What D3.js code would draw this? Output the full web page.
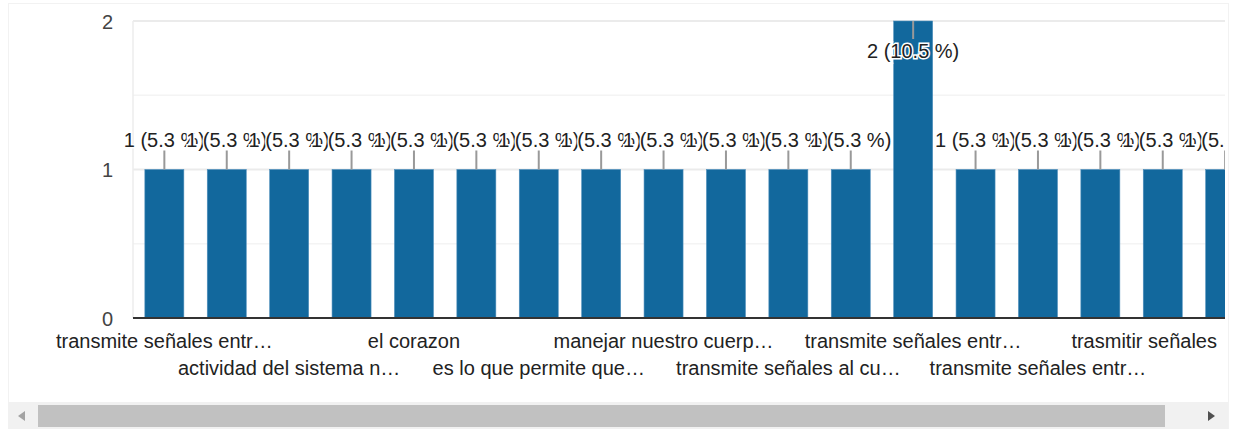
<!DOCTYPE html>
<html>
<head>
<meta charset="utf-8">
<script src="https://cdn.jsdelivr.net/npm/d3@7"></script>
<style>
  body { margin: 0; background: #fff; }
  svg { display: block; font-family: "Liberation Sans", Arial, sans-serif; }
</style>
</head>
<body>
<svg width="1235" height="429"></svg>
<script>
// answers (only every other one gets a label on the axis)
var categories = [
  "transmite señales entr…", "", "actividad del sistema n…", "",
  "el corazon", "", "es lo que permite que…", "",
  "manejar nuestro cuerp…", "", "transmite señales al cu…", "",
  "transmite señales entr…", "", "transmite señales entr…", "",
  "trasmitir señales", ""
];
var counts = [1, 1, 1, 1, 1, 1, 1, 1, 1, 1, 1, 1, 2, 1, 1, 1, 1, 1];
var yTicks = [0, 1, 2];
var total = d3.sum(counts);

var svg = d3.select('svg');
var plotLeft = 133, plotRight = 1225, plotTop = 21, plotBottom = 318;
var barColor = '#12689d';
var fontSize = 20;

// light frame of the card
svg.append('rect')
  .attr('x', 8.5).attr('y', 3.5)
  .attr('width', 1220).attr('height', 425)
  .attr('fill', 'none')
  .attr('stroke', '#f2f2f2');

var y = d3.scaleLinear().domain([0, 2]).range([plotBottom, plotTop]);

var step = 62.4;
var n = counts.length;
var x = d3.scaleBand()
  .domain(d3.range(n))
  .paddingInner(0.375)
  .paddingOuter(0.19)
  .range([plotLeft, plotLeft + step * (n - 0.375 + 2 * 0.19)]);

// grid
svg.append('g').selectAll('line')
  .data([0.5, 1.5])
  .enter().append('line')
  .attr('x1', plotLeft).attr('x2', plotRight)
  .attr('y1', function(d) { return y(d); })
  .attr('y2', function(d) { return y(d); })
  .attr('stroke', '#f4f4f4').attr('stroke-width', 1.5);

svg.append('g').selectAll('line')
  .data([1, 2])
  .enter().append('line')
  .attr('x1', plotLeft).attr('x2', plotRight)
  .attr('y1', function(d) { return y(d); })
  .attr('y2', function(d) { return y(d); })
  .attr('stroke', '#ebebeb').attr('stroke-width', 2);

svg.append('line')
  .attr('x1', plotLeft).attr('x2', plotLeft)
  .attr('y1', plotTop).attr('y2', plotBottom)
  .attr('stroke', '#ececec').attr('stroke-width', 1.5);

// y axis labels
var yAxis = svg.append('g')
  .attr('transform', 'translate(' + (plotLeft - 20) + ',0)')
  .call(d3.axisLeft(y).tickValues(yTicks).tickSize(0).tickFormat(d3.format('d')));
yAxis.select('.domain').remove();
yAxis.selectAll('text')
  .attr('font-size', fontSize)
  .attr('font-family', '"Liberation Sans", Arial, sans-serif')
  .attr('fill', '#444')
  .attr('x', 0)
  .attr('dy', '0.35em');

// clip for the scrolled plot
svg.append('clipPath').attr('id', 'plotclip')
  .append('rect').attr('x', 0).attr('y', 0).attr('width', plotRight).attr('height', plotBottom + 2);

var plot = svg.append('g').attr('clip-path', 'url(#plotclip)');

plot.selectAll('.bar')
  .data(counts)
  .enter().append('rect')
  .attr('class', 'bar')
  .attr('x', function(d, i) { return x(i); })
  .attr('y', function(d) { return y(d); })
  .attr('width', x.bandwidth())
  .attr('height', function(d) { return plotBottom - y(d); })
  .attr('fill', barColor)
  .attr('stroke', '#4f8fbc')
  .attr('stroke-width', 0.6);

// baseline
svg.append('line')
  .attr('x1', plotLeft).attr('x2', plotRight)
  .attr('y1', plotBottom).attr('y2', plotBottom)
  .attr('stroke', '#333').attr('stroke-width', 2);

// annotations: leader line + label with white halo
var inside = function(d) { return y(d) - 36 < plotTop; };

plot.selectAll('.leader')
  .data(counts)
  .enter().append('line')
  .attr('class', 'leader')
  .attr('x1', function(d, i) { return x(i) + x.bandwidth() / 2; })
  .attr('x2', function(d, i) { return x(i) + x.bandwidth() / 2; })
  .attr('y1', function(d) { return y(d); })
  .attr('y2', function(d) { return inside(d) ? y(d) + 18 : y(d) - 19; })
  .attr('stroke', '#999').attr('stroke-width', 2);

plot.selectAll('.ann')
  .data(counts)
  .enter().append('text')
  .attr('class', 'ann')
  .attr('x', function(d, i) { return x(i) + x.bandwidth() / 2; })
  .attr('y', function(d) { return inside(d) ? y(d) + 37 : y(d) - 23; })
  .attr('text-anchor', 'middle')
  .attr('font-size', fontSize)
  .attr('fill', '#222')
  .attr('stroke', '#fff')
  .attr('stroke-width', 3)
  .attr('paint-order', 'stroke')
  .text(function(d) {
    var p = (d / total * 100).toFixed(1);
    return d + ' (' + p + ' %)';
  });

// x axis labels in two staggered rows
var xAxis = svg.append('g')
  .attr('transform', 'translate(0,' + plotBottom + ')')
  .call(d3.axisBottom(x).tickSize(0).tickFormat(function(i) { return categories[i]; }));
xAxis.select('.domain').remove();
xAxis.selectAll('text')
  .attr('font-size', fontSize)
  .attr('font-family', '"Liberation Sans", Arial, sans-serif')
  .attr('fill', '#222')
  .attr('dy', 0)
  .attr('y', function(i) { return (i % 4 === 2) ? 57 : 30; });

// keep labels inside the visible plot width
xAxis.selectAll('.tick').each(function(i) {
  var t = d3.select(this).select('text');
  var w = t.node().getComputedTextLength();
  var cx = x(i) + x.bandwidth() / 2;
  var over = cx + w / 2 - (plotRight - 8);
  if (over > 0) t.attr('x', -over);
});

// horizontal scrollbar
var sb = svg.append('g');
sb.append('rect').attr('x', 8).attr('y', 402).attr('width', 1220).attr('height', 27).attr('fill', '#f1f1f1');
sb.append('rect').attr('x', 38).attr('y', 405).attr('width', 1127).attr('height', 22).attr('fill', '#c1c1c1');
sb.append('path').attr('d', 'M18,416 L25,411 L25,421 Z').attr('fill', '#a3a3a3');
sb.append('path').attr('d', 'M1215,416 L1208,411 L1208,421 Z').attr('fill', '#505050');
</script>
</body>
</html>
